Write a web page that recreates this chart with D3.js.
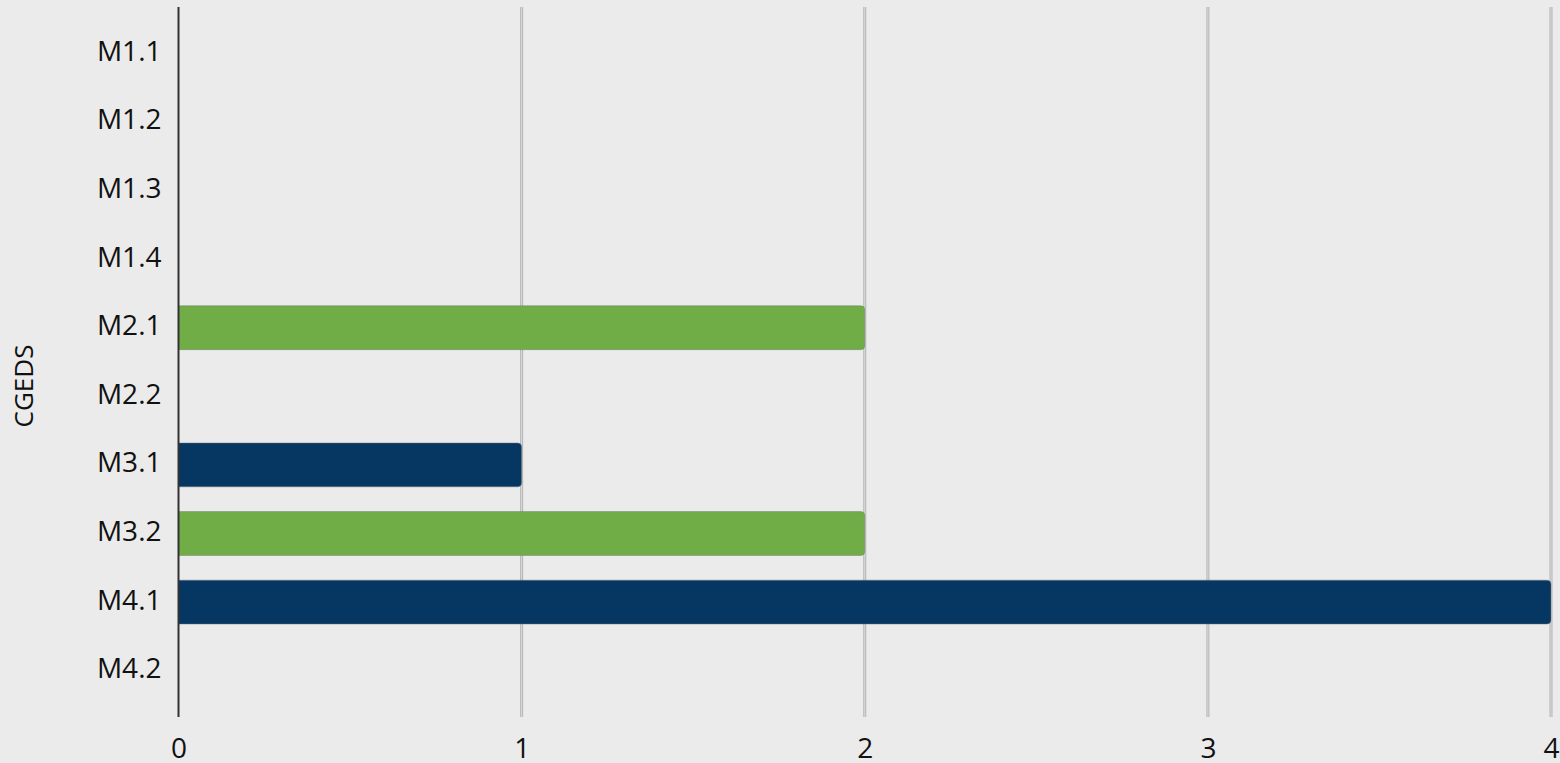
<!DOCTYPE html>
<html>
<head>
<meta charset="utf-8">
<script src="https://cdn.jsdelivr.net/npm/d3@7"></script>
<style>
  body { margin: 0; background: #ebebeb; }
  svg { display: block; font-family: "Open Sans", sans-serif; }
</style>
</head>
<body>
<div id="chart"></div>
<script>
// data
const categories = ["M1.1", "M1.2", "M1.3", "M1.4", "M2.1", "M2.2", "M3.1", "M3.2", "M4.1", "M4.2"];
const values = [0, 0, 0, 0, 2, 0, 1, 2, 4, 0];
const barColors = ["", "", "", "", "#70ad47", "", "#063763", "#70ad47", "#063763", ""];
const xTicks = [0, 1, 2, 3, 4];
const yTitle = "CGEDS";

const width = 1560, height = 763;
const font = "'Open Sans', sans-serif";

const rows = categories.map((c, i) => ({ name: c, value: values[i], color: barColors[i] }));

const svg = d3.select("#chart").append("svg")
    .attr("width", width)
    .attr("height", height);

svg.append("rect").attr("width", width).attr("height", height).attr("fill", "#ebebeb");

const x = d3.scaleLinear().domain([0, 4]).range([178.5, 1551]);
const y = d3.scaleBand().domain(categories).range([19, 705]).paddingInner(0.36).paddingOuter(0.18);

// gridlines (double look)
const gridTicks = xTicks.filter(d => d > 0);
svg.append("g").selectAll("line")
    .data(gridTicks)
  .enter().append("line")
    .attr("x1", d => x(d)).attr("x2", d => x(d))
    .attr("y1", 7).attr("y2", 717)
    .attr("stroke", "#b4b4b4").attr("stroke-width", 3);
svg.append("g").selectAll("line")
    .data(gridTicks)
  .enter().append("line")
    .attr("x1", d => x(d)).attr("x2", d => x(d))
    .attr("y1", 7).attr("y2", 717)
    .attr("stroke", "#dcdcdc").attr("stroke-width", 1);

// bars: square left end, rounded right end
const r = 4;
function barPath(d) {
  const x0 = x(0), x1 = x(d.value), y0 = y(d.name), h = y.bandwidth();
  return `M${x0},${y0}H${x1 - r}Q${x1},${y0} ${x1},${y0 + r}V${y0 + h - r}Q${x1},${y0 + h} ${x1 - r},${y0 + h}H${x0}Z`;
}
svg.append("g").selectAll("path")
    .data(rows.filter(d => d.value > 0))
  .enter().append("path")
    .attr("d", barPath)
    .attr("fill", d => d.color)
    .attr("stroke", "rgba(120,120,120,0.45)")
    .attr("stroke-width", 1);

// y axis
const yAxis = svg.append("g")
    .attr("transform", "translate(178.5,0)")
    .call(d3.axisLeft(y).tickSize(0).tickPadding(17));
yAxis.select(".domain").remove();
yAxis.selectAll("text")
    .attr("font-size", 28).attr("fill", "#111").attr("font-family", font)
    .attr("dy", "0.27em");

svg.append("line")
    .attr("x1", 178.5).attr("x2", 178.5)
    .attr("y1", 7).attr("y2", 717)
    .attr("stroke", "#333").attr("stroke-width", 2);

// x axis labels
const xAxis = svg.append("g")
    .attr("transform", "translate(0,717)")
    .call(d3.axisBottom(x).tickValues(xTicks).tickFormat(d3.format("d")).tickSize(0).tickPadding(21));
xAxis.select(".domain").remove();
xAxis.selectAll("text").attr("font-size", 28).attr("fill", "#111").attr("font-family", font);

// y title
svg.append("text")
    .attr("transform", "translate(33,386) rotate(-90)")
    .attr("text-anchor", "middle")
    .attr("font-size", 26)
    .attr("fill", "#111")
    .attr("font-family", font)
    .text(yTitle);
</script>
</body>
</html>
